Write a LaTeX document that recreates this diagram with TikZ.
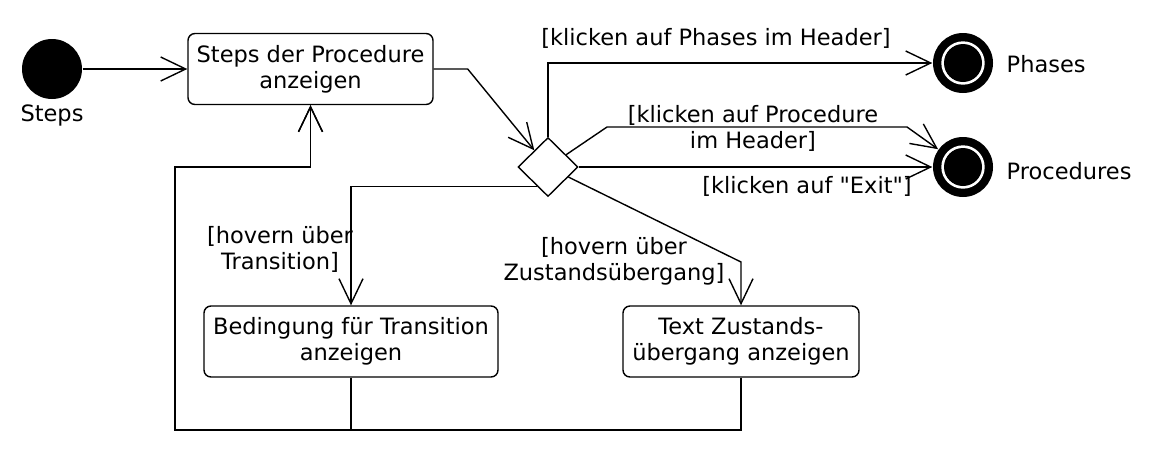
\documentclass[tikz,border=0pt]{standalone}
\usepackage{fontspec}
\setmainfont{DejaVu Sans}[Ligatures=TeXOff]
\usetikzlibrary{arrows.meta,shapes.geometric}

\begin{document}
\begin{tikzpicture} [x=1pt, y=-1pt, line width=1.4pt, font=\fontsize{22.5}{26}\selectfont]
\tikzstyle{every node}=[inner sep=0pt];
\tikzstyle{actbox}=[draw, rounded corners=7pt, align=center, minimum height=71pt];
\tikzstyle{guard}=[align=center];
\tikzstyle{trans}=[-{Straight Barb[length=25pt, width=24pt]}];
\tikzstyle{initnode}=[circle, fill=black, minimum size=60pt];
\tikzstyle{finalnode}=[circle, fill=black, minimum size=60pt,
  path picture={\fill[white] (path picture bounding box.center) circle (21.7pt);
                \fill[black] (path picture bounding box.center) circle (19pt);}];
\useasboundingbox (0,0) rectangle (1156,448);
\node [initnode] (start) at (52,69) {};
\node (startname) at (52,115) {Steps};
\node [actbox, minimum width=245pt] (show) at (310.5,69) {Steps der Procedure\\anzeigen};
\node [diamond, draw, minimum width=60pt, minimum height=59pt] (dec) at (548,167) {};
\node [finalnode] (phases) at (963,63) {};
\node [finalnode] (procs) at (963,167) {};
\node [anchor=west] (phasesname) at (1006,64) {Phases};
\node [anchor=west] (procsname) at (1006,171) {Procedures};
\node [actbox, minimum width=294pt] (cond) at (351,341.5) {Bedingung für Transition\\anzeigen};
\node [actbox, minimum width=236pt] (text) at (741,341.5) {Text Zustands-\\übergang anzeigen};
% guards
\node [guard] (phaseslbl) at (716,38) {[klicken auf Phases im Header]};
\node [guard] (proclbl) at (753,128) {[klicken auf Procedure\\im Header]};
\node [guard] (exitlbl) at (807,186) {[klicken auf "Exit"]};
\node [guard] (translbl) at (280,249) {[hovern über\\Transition]};
\node [guard] (zustlbl) at (614,261) {[hovern über\\Zustandsübergang]};
\coordinate (hdrA) at (607,127);
\coordinate (hdrB) at (907,127);
\coordinate (zbend) at (741,262);
\coordinate (loopbot) at (175,430);
\coordinate (looptop) at (175,167);
\draw [trans] (start) -- (show);
\draw [trans] (show.east) -- ++(34,0) -- (dec);
\draw [trans] (dec.north) |- (phases);
\draw [trans] (dec) -- (hdrA) -- (hdrB) -- (procs);
\draw [trans] (dec.east) -- (procs);
\draw [trans] (dec.240) -| (cond.north);
\draw [trans] (dec) -- (zbend) -- (text.north);
\draw [trans] (cond.south) |- (loopbot) -- (looptop) -| (show.south); % back
\draw [trans] (text.south) |- (loopbot) -- (looptop) -| (show.south);
\end{tikzpicture}
\end{document}
